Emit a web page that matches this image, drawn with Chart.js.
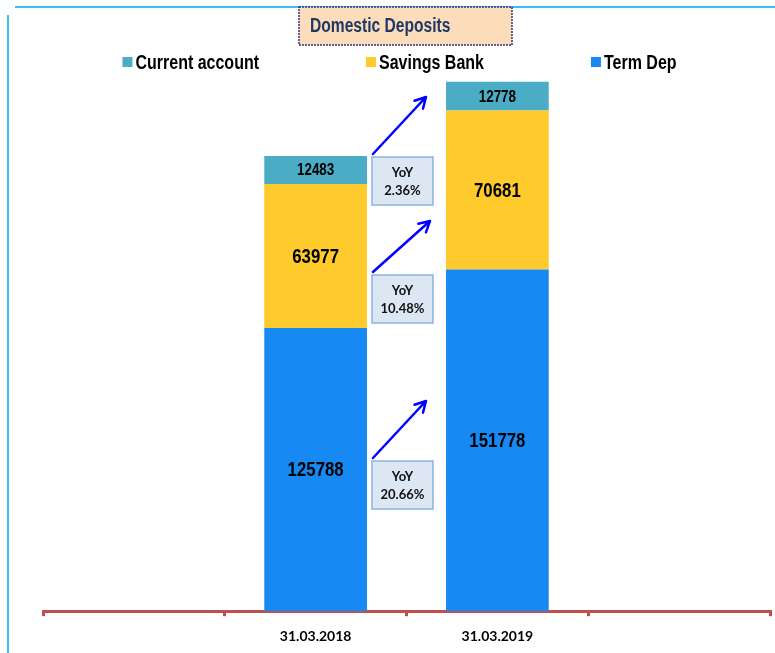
<!DOCTYPE html>
<html>
<head>
<meta charset="utf-8">
<script src="https://cdn.jsdelivr.net/npm/chart.js@4.4.1/dist/chart.umd.min.js"></script>
<style>
  html, body { margin: 0; padding: 0; background: #fff; }
  #wrap { width: 775px; height: 653px; position: relative; }
</style>
</head>
<body>
<div id="wrap"><canvas id="chart"></canvas></div>
<script>
// data
const categories = ['', '31.03.2018', '31.03.2019', ''];
const termDep = [null, 125788, 151778, null];
const savingsBank = [null, 63977, 70681, null];
const currentAccount = [null, 12483, 12778, null];
const seriesNames = ['Term Dep', 'Savings Bank', 'Current account'];
const yoyGrowth = ['20.66%', '10.48%', '2.36%']; // term, savings, current
const chartTitle = 'Domestic Deposits';

const colors = ['#1789f2', '#ffca2b', '#4aacc5'];
const sans = "'Liberation Sans', Arial, sans-serif";

// draw text squeezed horizontally (no narrow font installed)
function narrowText(ctx, text, x, y, sx) {
    ctx.save();
    ctx.translate(x, y);
    ctx.scale(sx, 1);
    ctx.fillText(text, 0, 0);
    ctx.restore();
}

// frame + title box + legend
const framePlugin = {
    id: 'frame',
    beforeDraw(chart) {
        const ctx = chart.ctx;
        ctx.save();
        ctx.strokeStyle = '#3dbdf0';
        ctx.lineWidth = 2;
        ctx.beginPath();
        ctx.moveTo(15, 7); ctx.lineTo(775, 7);
        ctx.moveTo(8, 15); ctx.lineTo(8, 653);
        ctx.stroke();

        // title box
        ctx.fillStyle = '#fddcbc';
        ctx.fillRect(299, 7, 213, 38);
        ctx.setLineDash([2, 1]);
        ctx.lineWidth = 1.5;
        ctx.strokeStyle = '#33337a';
        ctx.strokeRect(299, 7, 213, 38);
        ctx.setLineDash([]);
        ctx.fillStyle = '#1f3864';
        ctx.font = 'bold 20px ' + sans;
        ctx.textBaseline = 'middle';
        ctx.textAlign = 'left';
        narrowText(ctx, chartTitle, 310, 26, 0.78);

        // legend: current, savings, term
        const order = [2, 1, 0];
        const sx = 0.8;
        ctx.font = 'bold 20px ' + sans;
        const gap = 107, box = 10, tgap = 3;
        const widths = order.map(i => box + tgap + ctx.measureText(seriesNames[i]).width * sx);
        const total = widths.reduce((a, b) => a + b, 0) + gap * (order.length - 1);
        let x = (chart.chartArea.left + chart.chartArea.right) / 2 - 7 - total / 2;
        const ly = 62;
        order.forEach((i, k) => {
            ctx.fillStyle = colors[i];
            ctx.fillRect(x, ly - 5, box, box);
            ctx.fillStyle = '#000';
            narrowText(ctx, seriesNames[i], x + box + tgap, ly + 1, sx);
            x += widths[k] + gap;
        });
        ctx.restore();
    }
};

// values inside bars + YoY boxes with arrows
const labelPlugin = {
    id: 'labels',
    afterDatasetsDraw(chart) {
        const ctx = chart.ctx;
        ctx.save();
        ctx.textAlign = 'center';
        ctx.textBaseline = 'middle';
        ctx.fillStyle = '#000';
        chart.data.datasets.forEach((ds, di) => {
            const meta = chart.getDatasetMeta(di);
            meta.data.forEach((bar, j) => {
                const v = ds.data[j];
                if (v == null) return;
                const cy = (bar.y + bar.base) / 2;
                ctx.font = (di === 2 ? 'bold 16px ' : 'bold 20px ') + sans;
                narrowText(ctx, String(v), bar.x, cy + 1, 0.84);
            });
        });

        // YoY annotations between the two bars
        const ys = chart.scales.y;
        const bar0 = chart.getDatasetMeta(0).data[1];
        const left = bar0.x + bar0.width / 2 + 5;
        const anchors = [66600, 149500, 201900];
        const arrowDx = [53, 57, 53], arrowDy = [57, 51, 57];
        anchors.forEach((val, k) => {
            const top = Math.round(ys.getPixelForValue(val));
            ctx.fillStyle = '#dde6f3';
            ctx.fillRect(left, top, 61, 48);
            ctx.strokeStyle = '#8db3e2';
            ctx.lineWidth = 1.5;
            ctx.strokeRect(left, top, 61, 48);
            ctx.fillStyle = '#111';
            ctx.font = "bold 13px Lato, 'Open Sans', sans-serif";
            ctx.fillText('YoY', left + 30.5, top + 16);
            ctx.fillText(yoyGrowth[k], left + 30.5, top + 34);

            // arrow
            const x1 = left + 1, y1 = top - 3;
            const x2 = x1 + arrowDx[k], y2 = y1 - arrowDy[k];
            ctx.strokeStyle = '#0000ff';
            ctx.lineWidth = 2.5;
            ctx.lineCap = 'round';
            ctx.beginPath();
            ctx.moveTo(x1, y1); ctx.lineTo(x2, y2);
            const ang = Math.atan2(y2 - y1, x2 - x1);
            const hl = 12;
            ctx.moveTo(x2, y2);
            ctx.lineTo(x2 - hl * Math.cos(ang - 0.5), y2 - hl * Math.sin(ang - 0.5));
            ctx.moveTo(x2, y2);
            ctx.lineTo(x2 - hl * Math.cos(ang + 0.5), y2 - hl * Math.sin(ang + 0.5));
            ctx.stroke();
        });
        ctx.restore();
    }
};

const seriesData = [termDep, savingsBank, currentAccount];

new Chart(document.getElementById('chart'), {
    type: 'bar',
    data: {
        labels: categories,
        datasets: seriesData.map((d, i) => ({
            label: seriesNames[i],
            data: d,
            backgroundColor: colors[i],
            borderWidth: 0,
            categoryPercentage: 1,
            barPercentage: 0.565
        }))
    },
    options: {
        responsive: true,
        maintainAspectRatio: false,
        animation: false,
        layout: { padding: { top: 71, left: 43, right: 5, bottom: -4 } },
        plugins: {
            legend: { display: false },
            title: { display: false },
            tooltip: { enabled: false }
        },
        scales: {
            x: {
                stacked: true,
                grid: {
                    display: true,
                    drawOnChartArea: false,
                    drawTicks: true,
                    tickLength: 5,
                    color: '#c0504d',
                    lineWidth: 3
                },
                border: { display: true, color: '#c0504d', width: 3 },
                ticks: {
                    color: '#000',
                    padding: 12,
                    font: { family: "Lato, 'Open Sans', sans-serif", size: 14, weight: 'bold' }
                }
            },
            y: {
                stacked: true,
                display: false,
                min: 0,
                max: 240000
            }
        }
    },
    plugins: [framePlugin, labelPlugin]
});
</script>
</body>
</html>
